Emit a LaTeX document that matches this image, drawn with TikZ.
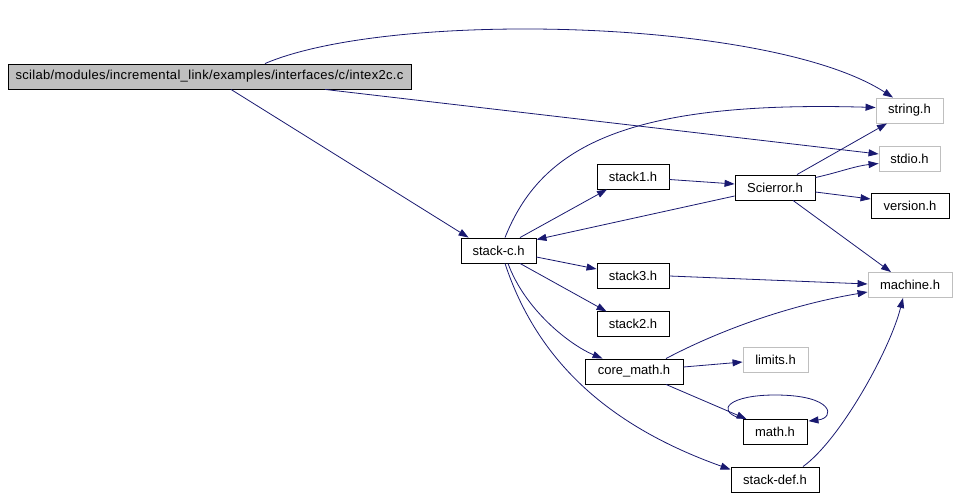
\documentclass[tikz,border=0pt]{standalone}
\usepackage{fontspec}
\setmainfont{Liberation Sans}
\usetikzlibrary{arrows.meta,calc}
\definecolor{edgecol}{RGB}{25,25,112}
\definecolor{extgray}{RGB}{191,191,191}
\begin{document}
\begin{tikzpicture}[x=1pt,y=-1pt,
  file/.style={draw=black, rectangle, inner sep=0pt, minimum height=25pt, line width=0.9pt, font=\fontsize{13}{15}\selectfont},
  extfile/.style={file, draw=extgray},
  dep/.style={draw=edgecol, line width=0.8pt, -{Triangle[length=10pt,width=7pt]}},
]
\useasboundingbox (0,0) rectangle (957,495);
\node[file, fill=extgray, minimum width=403pt] (main) at (209.5,76.5) {\addfontfeature{LetterSpace=2.5}scilab/modules/incremental\_link/examples/interfaces/c/intex2c.c};
\node[extfile, minimum width=67pt] (string) at (909.5,110.5) {string.h};
\node[extfile, minimum width=61pt] (stdio) at (909.5,158.5) {stdio.h};
\node[file, minimum width=80pt] (scierror) at (775,187.5) {Scierror.h};
\node[file, minimum width=78pt] (version) at (910,206) {version.h};
\node[file, minimum width=72pt] (stack1) at (633,176.5) {stack1.h};
\node[file, minimum width=75pt] (stackc) at (498.5,250.5) {stack-c.h};
\node[file, minimum width=72pt] (stack3) at (633,275.5) {stack3.h};
\node[file, minimum width=72pt] (stack2) at (633,323.5) {stack2.h};
\node[file, minimum width=98pt] (coremath) at (634,371.5) {core\_math.h};
\node[extfile, minimum width=65pt] (limits) at (775.5,359.5) {limits.h};
\node[file, minimum width=64pt] (math) at (775,432) {math.h};
\node[file, minimum width=88pt] (stackdef) at (775,479.5) {stack-def.h};
\node[extfile, minimum width=84pt] (machine) at (910,285) {machine.h};

% main
\draw[dep] ($(main.north)+(55.5,0)$) .. controls (390,10) and (770,18) .. ($(string.north)+(-16.5,0)$);
\draw[dep] ($(main.south)+(115.5,0)$) -- ($(stdio.west)+(0,-4.5)$);
\draw[dep] ($(main.south)+(21.5,0)$) -- ($(stackc.north west)+(8,0)$);
% stack-c
\draw[dep] ($(stackc.north)+(6.5,0)$) .. controls (540,150) and (620,100) .. ($(string.west)+(0,-3)$);
\draw[dep] ($(stackc.north)+(21.5,0)$) -- ($(stack1.south)+(-26,0)$);
\draw[dep] ($(stackc.east)+(0,6.5)$) -- ($(stack3.west)+(0,-6.5)$);
\draw[dep] ($(stackc.south)+(21.5,0)$) -- ($(stack2.south west)+(10,-25)$);
\draw[dep] ($(stackc.south)+(9.5,0)$) .. controls (525,310) and (570,345) .. ($(coremath.north west)+(18,0)$);
\draw[dep] ($(stackc.south)+(6.5,0)$) .. controls (540,370) and (620,430) .. ($(stackdef.west)+(0,-10)$);
% stack1
\draw[dep] ($(stack1.east)+(0,3)$) -- ($(scierror.west)+(0,-3.5)$);
% Scierror
\draw[dep] ($(scierror.west)+(0,8.5)$) -- ($(stackc.north east)+(0,2)$);
\draw[dep] ($(scierror.north)+(22,0)$) -- ($(string.south)+(-22.5,0)$);
\draw[dep] ($(scierror.north east)+(0,3)$) .. controls (840,172) and (855,166) .. ($(stdio.west)+(0,5)$);
\draw[dep] ($(scierror.east)+(0,4.5)$) -- ($(version.west)+(0,-7)$);
\draw[dep] ($(scierror.south)+(18,0)$) -- ($(machine.north)+(-19,0)$);
% stack3
\draw[dep] ($(stack3.east)+(0,0.5)$) -- ($(machine.west)+(0,-1)$);
% core_math
\draw[dep] ($(coremath.north)+(32,0)$) .. controls (720,330) and (790,305) .. ($(machine.west)+(0,7)$);
\draw[dep] ($(coremath.east)+(0,-4.5)$) -- ($(limits.west)+(0,2.5)$);
\draw[dep] ($(coremath.south)+(32,0)$) -- ($(math.north west)+(4,0)$);
% math self loop
\draw[dep] ($(math.north west)+(-3,-1)$) .. controls (715,410) and (730,395) .. (775,395) .. controls (835,395) and (835,418) .. ($(math.north east)+(1,2)$);
% stack-def
\draw[dep] ($(stackdef.north)+(28,0)$) .. controls (840,440) and (890,350) .. ($(machine.south)+(-7,0)$);
\end{tikzpicture}
\end{document}
